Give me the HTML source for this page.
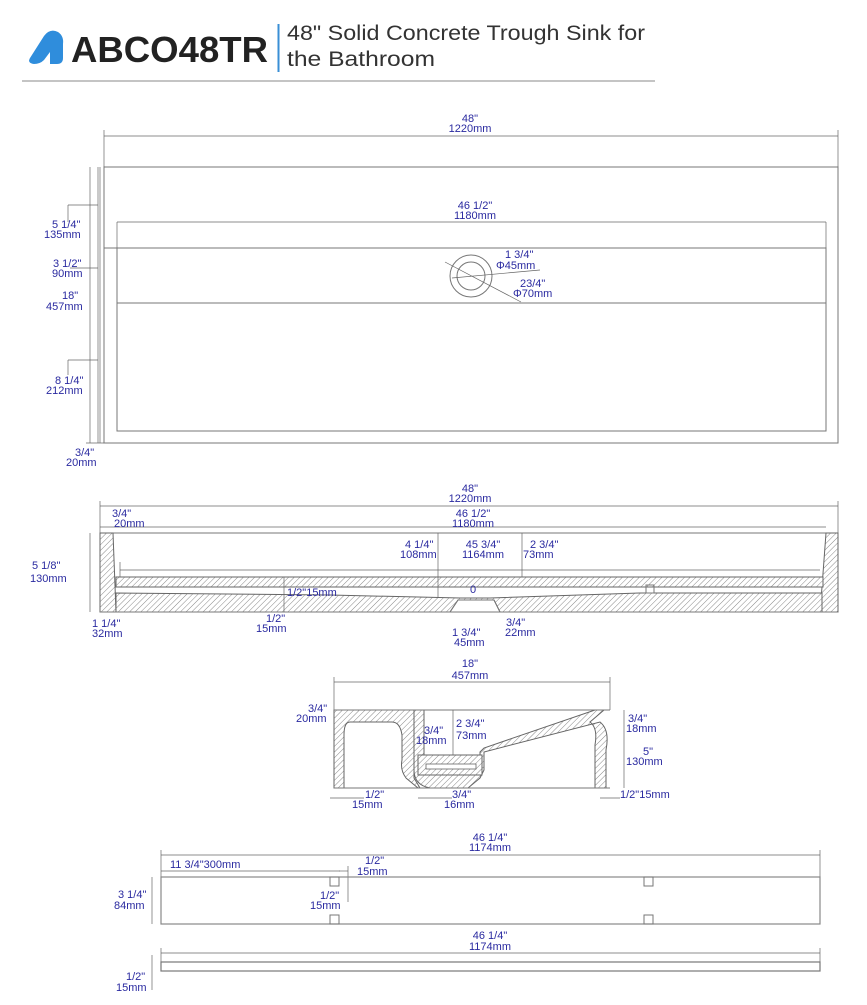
<!DOCTYPE html>
<html><head><meta charset="utf-8"><style>
html,body{margin:0;padding:0;background:#fff;}
svg{display:block;}
.t{font-family:"Liberation Sans",sans-serif;fill:#2a2aa0;font-size:11px;}
.l{stroke:#777;stroke-width:1;fill:none;}
.d{stroke:#666;stroke-width:0.7;fill:none;}
.h{fill:url(#hatch);stroke:#666;stroke-width:1;}
</style></head><body>
<svg width="867" height="1005" viewBox="0 0 867 1005" xmlns="http://www.w3.org/2000/svg">
<defs>
<pattern id="hatch" width="4" height="4" patternUnits="userSpaceOnUse" patternTransform="rotate(45)">
<rect width="4" height="4" fill="#fff"/><line x1="0" y1="0" x2="0" y2="4" stroke="#888" stroke-width="1"/>
</pattern>
</defs>
<!-- header -->
<path d="M30 58 L44 36 Q50 28 58 32 Q64 36 63 44 L63 58 Q63 64 57 64 L50 64 L50 52 L44 60 Q40 64 34 64 Q27 63 30 58Z" fill="#2f8ddc"/>
<text x="71" y="62" font-family="Liberation Sans,sans-serif" font-weight="bold" font-size="36" fill="#222" textLength="197" lengthAdjust="spacingAndGlyphs">ABCO48TR</text>
<line x1="278.5" y1="24" x2="278.5" y2="72" stroke="#3a8fd6" stroke-width="2"/>
<text x="287" y="40" font-family="Liberation Sans,sans-serif" font-size="21" fill="#333" textLength="358" lengthAdjust="spacingAndGlyphs">48" Solid Concrete Trough Sink for</text>
<text x="287" y="66" font-family="Liberation Sans,sans-serif" font-size="21" fill="#333" textLength="148" lengthAdjust="spacingAndGlyphs">the Bathroom</text>
<line x1="22" y1="81" x2="655" y2="81" stroke="#888" stroke-width="1"/>

<!-- top view -->
<rect x="104" y="167" width="734" height="276" class="l"/>
<line x1="104" y1="248" x2="826" y2="248" class="l"/>
<line x1="117" y1="303" x2="826" y2="303" class="l"/>
<rect x="117" y="248" width="709" height="183" class="l"/>
<line x1="117" y1="222" x2="826" y2="222" class="d"/>
<line x1="117" y1="222" x2="117" y2="248" class="d"/>
<line x1="826" y1="222" x2="826" y2="248" class="d"/>
<line x1="104" y1="136" x2="838" y2="136" class="d"/>
<line x1="104" y1="130" x2="104" y2="167" class="d"/>
<line x1="838" y1="130" x2="838" y2="167" class="d"/>
<text class="t" x="470" y="122" text-anchor="middle">48"</text>
<text class="t" x="470" y="132" text-anchor="middle">1220mm</text>
<text class="t" x="475" y="209" text-anchor="middle">46 1/2"</text>
<text class="t" x="475" y="219" text-anchor="middle">1180mm</text>
<circle cx="471" cy="276" r="21" class="l"/>
<circle cx="471" cy="276" r="14" class="l"/>
<line x1="445" y1="262" x2="521" y2="302" class="d"/>
<line x1="452" y1="278" x2="540" y2="270" class="d"/>
<text class="t" x="505" y="258">1 3/4"</text>
<text class="t" x="496" y="269">Φ45mm</text>
<text class="t" x="520" y="287">23/4"</text>
<text class="t" x="513" y="297">Φ70mm</text>
<line x1="90" y1="167" x2="90" y2="443" class="d"/>
<line x1="98" y1="167" x2="98" y2="443" class="d"/>
<line x1="100" y1="167" x2="100" y2="443" class="d"/>
<line x1="68" y1="205" x2="98" y2="205" class="d"/><line x1="68" y1="205" x2="68" y2="222" class="d"/>
<line x1="70" y1="268" x2="98" y2="268" class="d"/>
<line x1="68" y1="360" x2="98" y2="360" class="d"/><line x1="68" y1="360" x2="68" y2="375" class="d"/>
<line x1="86" y1="443" x2="104" y2="443" class="d"/>
<text class="t" x="52" y="228">5 1/4"</text><text class="t" x="44" y="238">135mm</text>
<text class="t" x="53" y="267">3 1/2"</text><text class="t" x="52" y="277">90mm</text>
<text class="t" x="62" y="299">18"</text><text class="t" x="46" y="310">457mm</text>
<text class="t" x="55" y="384">8 1/4"</text><text class="t" x="46" y="394">212mm</text>
<text class="t" x="75" y="456">3/4"</text><text class="t" x="66" y="466">20mm</text>

<!-- front view -->
<line x1="100" y1="506" x2="838" y2="506" class="d"/>
<line x1="100" y1="501" x2="100" y2="533" class="d"/>
<line x1="838" y1="501" x2="838" y2="533" class="d"/>
<line x1="100" y1="527" x2="826" y2="527" class="d"/>
<text class="t" x="470" y="492" text-anchor="middle">48"</text>
<text class="t" x="470" y="502" text-anchor="middle">1220mm</text>
<text class="t" x="473" y="517" text-anchor="middle">46 1/2"</text>
<text class="t" x="473" y="527" text-anchor="middle">1180mm</text>
<text class="t" x="112" y="517">3/4"</text><text class="t" x="114" y="527">20mm</text>
<line x1="100" y1="533" x2="838" y2="533" class="l"/>
<path d="M100 533 L113 533 L116 612 L100 612Z" class="h"/>
<path d="M826 533 L838 533 L838 612 L820 612 L822 587 L826 533Z" class="h"/>
<rect x="116" y="577" width="707" height="10" class="h"/>
<path d="M116 593 L330 595 L460 598 L490 598 L640 593 L822 593 L822 612 L500 612 L494 600 L458 600 L450 612 L116 612Z" class="h"/>
<path d="M450 612 L458 600 L494 600 L500 612" class="l"/>
<line x1="100" y1="612" x2="838" y2="612" class="l"/>
<line x1="120" y1="570" x2="820" y2="570" class="d"/>
<line x1="120" y1="562" x2="120" y2="577" class="d"/>
<line x1="438" y1="533" x2="438" y2="597" class="d"/>
<line x1="522" y1="533" x2="522" y2="577" class="d"/>
<line x1="90" y1="533" x2="90" y2="612" class="d"/>
<line x1="284" y1="577" x2="284" y2="612" class="d"/>
<rect x="646" y="585" width="8" height="8" class="l"/>
<text class="t" x="32" y="569" font-size="12">5 1/8"</text><text class="t" x="30" y="582">130mm</text>
<text class="t" x="405" y="548">4 1/4"</text><text class="t" x="400" y="558">108mm</text>
<text class="t" x="483" y="548" text-anchor="middle">45 3/4"</text><text class="t" x="483" y="558" text-anchor="middle">1164mm</text>
<text class="t" x="530" y="548">2 3/4"</text><text class="t" x="523" y="558">73mm</text>
<text class="t" x="287" y="596">1/2"15mm</text>
<text class="t" x="470" y="593">0</text>
<text class="t" x="92" y="627">1 1/4"</text><text class="t" x="92" y="637">32mm</text>
<text class="t" x="266" y="622">1/2"</text><text class="t" x="256" y="632">15mm</text>
<text class="t" x="452" y="636">1 3/4"</text><text class="t" x="454" y="646">45mm</text>
<text class="t" x="506" y="626">3/4"</text><text class="t" x="505" y="636">22mm</text>

<!-- side view -->
<line x1="334" y1="682" x2="610" y2="682" class="d"/>
<line x1="334" y1="677" x2="334" y2="710" class="d"/>
<line x1="610" y1="677" x2="610" y2="710" class="d"/>
<text class="t" x="470" y="667" text-anchor="middle">18"</text>
<text class="t" x="470" y="679" text-anchor="middle">457mm</text>
<path d="M334 710 L414 710 L414 778 L420 788 L418 788 L406 778 Q400 770 402 760 L402 735 Q400 722 392 722 L350 722 Q344 722 344 735 L344 788 L334 788Z" class="h"/>
<path d="M414 710 L414 770 Q414 785 430 788 L468 788 L480 778 L484 770 L484 752 L600 722 Q610 730 606 750 L606 788 L595 788 L595 745 Q598 728 590 722 L604 710 L595 710 L484 748 L480 752 L480 760 L424 760 L424 710Z" class="h"/>
<rect x="418" y="755" width="64" height="20" class="h"/>
<rect x="426" y="764" width="50" height="5" fill="#fff" stroke="#666" stroke-width="0.8"/>
<line x1="334" y1="788" x2="610" y2="788" class="l"/>
<line x1="334" y1="710" x2="610" y2="710" class="l"/>
<line x1="453" y1="710" x2="453" y2="755" class="d"/>
<line x1="624" y1="710" x2="624" y2="788" class="d"/>
<text class="t" x="308" y="712">3/4"</text><text class="t" x="296" y="722">20mm</text>
<text class="t" x="424" y="734">3/4"</text><text class="t" x="416" y="744">18mm</text>
<text class="t" x="456" y="727">2 3/4"</text><text class="t" x="456" y="739">73mm</text>
<text class="t" x="628" y="722">3/4"</text><text class="t" x="626" y="732">18mm</text>
<text class="t" x="643" y="755">5"</text><text class="t" x="626" y="765">130mm</text>
<text class="t" x="365" y="798">1/2"</text><text class="t" x="352" y="808">15mm</text>
<text class="t" x="452" y="798">3/4"</text><text class="t" x="444" y="808">16mm</text>
<text class="t" x="620" y="798">1/2"15mm</text>
<line x1="330" y1="798" x2="364" y2="798" class="d"/>
<line x1="418" y1="798" x2="452" y2="798" class="d"/>
<line x1="600" y1="798" x2="620" y2="798" class="d"/>

<!-- bottom panel -->
<line x1="161" y1="855" x2="820" y2="855" class="d"/>
<line x1="161" y1="850" x2="161" y2="877" class="d"/>
<line x1="820" y1="850" x2="820" y2="877" class="d"/>
<text class="t" x="490" y="841" text-anchor="middle">46 1/4"</text>
<text class="t" x="490" y="851" text-anchor="middle">1174mm</text>
<line x1="161" y1="871" x2="340" y2="871" class="d"/>
<text class="t" x="170" y="868">11 3/4"300mm</text>
<text class="t" x="365" y="864">1/2"</text><text class="t" x="357" y="875">15mm</text>
<line x1="339" y1="871" x2="348" y2="871" class="d"/>
<line x1="348" y1="866" x2="348" y2="902" class="d"/>
<rect x="161" y="877" width="659" height="47" fill="none" stroke="#888" stroke-width="1.2"/>
<rect x="330" y="877" width="9" height="9" class="l"/>
<rect x="330" y="915" width="9" height="9" class="l"/>
<rect x="644" y="877" width="9" height="9" class="l"/>
<rect x="644" y="915" width="9" height="9" class="l"/>
<line x1="152" y1="877" x2="152" y2="924" class="d"/>
<text class="t" x="118" y="898">3 1/4"</text><text class="t" x="114" y="909">84mm</text>
<text class="t" x="320" y="899">1/2"</text><text class="t" x="310" y="909">15mm</text>
<!-- strip -->
<line x1="161" y1="953" x2="820" y2="953" class="d"/>
<line x1="161" y1="948" x2="161" y2="962" class="d"/>
<line x1="820" y1="948" x2="820" y2="962" class="d"/>
<text class="t" x="490" y="939" text-anchor="middle">46 1/4"</text>
<text class="t" x="490" y="950" text-anchor="middle">1174mm</text>
<rect x="161" y="962" width="659" height="9" fill="none" stroke="#777" stroke-width="1.2"/>
<line x1="152" y1="955" x2="152" y2="990" class="d"/>
<text class="t" x="126" y="980">1/2"</text><text class="t" x="116" y="991">15mm</text>
</svg>
</body></html>
